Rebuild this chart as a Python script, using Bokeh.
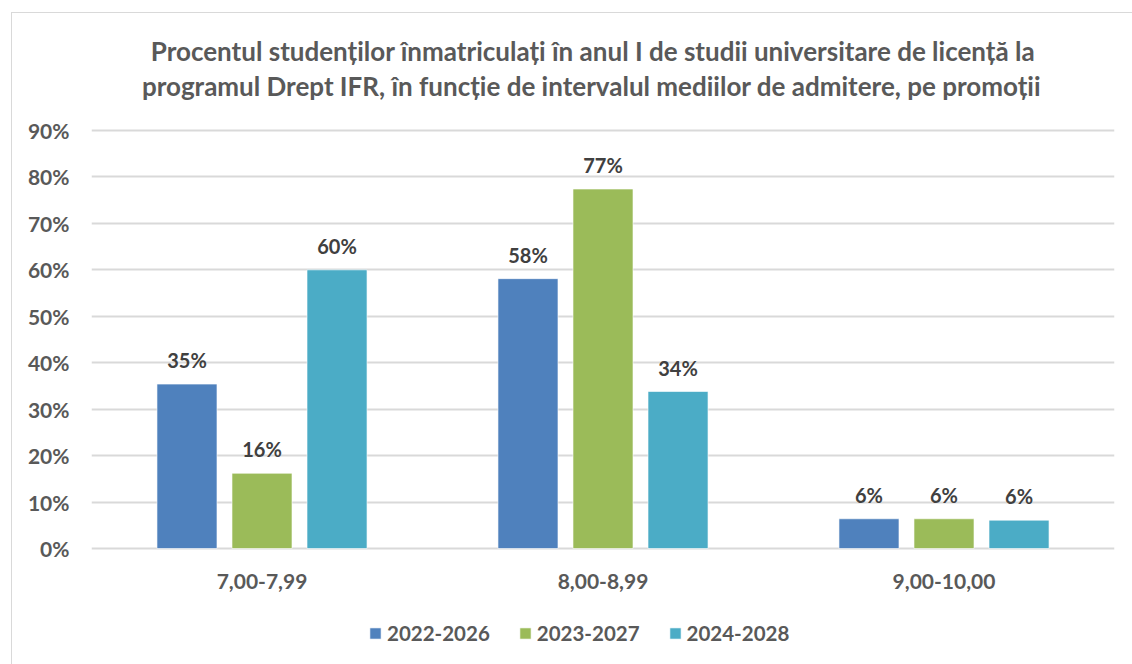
from bokeh.plotting import figure
from bokeh.models import ColumnDataSource, FactorRange, Range1d, Legend, LegendItem, FixedTicker, CustomJSTickFormatter
from bokeh.transform import dodge
from bokeh.core.properties import value
from bokeh.embed import file_html
from bokeh.resources import INLINE

# ---- data ----
categories = ["7,00-7,99", "8,00-8,99", "9,00-10,00"]
series = ["2022-2026", "2023-2027", "2024-2028"]
v2022 = [35.4, 58.1, 6.4]
v2023 = [16.2, 77.4, 6.4]
v2024 = [60.0, 33.8, 6.1]
colors = ["#4F81BD", "#9BBB59", "#4BACC6"]
yticks = [0, 10, 20, 30, 40, 50, 60, 70, 80, 90]
title_lines = ["Procentul studenților înmatriculați în anul I de studii universitare de licență la",
               "programul Drept IFR, în funcție de intervalul mediilor de admitere, pe promoții"]

# ---- layout (page pixels) ----
FONT = "Lato"
ML, MT = 11, 12                 # chart box starts at (11,12)
W, H = 1132 - ML, 664 - MT
frame_left, frame_right = 90, 1113
px_top, px_zero = 129, 547      # pixel rows of 90% and 0%
ymax = 90
ppu = (px_zero - px_top) / ymax
y_end = ymax + (px_top - MT) / ppu
y_start = -((MT + H) - px_zero) / ppu

p = figure(x_range=FactorRange(*categories, range_padding=0), y_range=Range1d(y_start, y_end),
           width=W, height=H, output_backend="svg", toolbar_location=None, title=None,
           min_border_left=frame_left - ML, min_border_right=(ML + W) - frame_right,
           min_border_top=0, min_border_bottom=0)
p.margin = (MT, 0, 0, ML)
p.styles = {"border-left": "1px solid #d9d9d9", "border-top": "1px solid #d9d9d9"}
p.outline_line_color = None

src = ColumnDataSource(dict(cat=categories, a=v2022, b=v2023, c=v2024,
                            la=[f"{round(v)}%" for v in v2022],
                            lb=[f"{round(v)}%" for v in v2023],
                            lc=[f"{round(v)}%" for v in v2024]))

offsets = [-0.22, 0.0, 0.22]
items = []
for off, col, lcol, colr, name in zip(offsets, ["a", "b", "c"], ["la", "lb", "lc"], colors, series):
    r = p.vbar(x=dodge("cat", off, range=p.x_range), top=col, bottom=0, width=0.176, source=src,
               fill_color=colr, line_color="#ffffff", line_alpha=0.6, line_width=1)
    p.text(x=dodge("cat", off, range=p.x_range), y=col, text=lcol, source=src,
           text_align="center", text_baseline="bottom", y_offset=-12,
           text_font=value(FONT), text_font_style="bold", text_font_size="20px",
           text_color="#404040")
    items.append(LegendItem(label=name, renderers=[r]))

# category labels under the 0% line
p.text(x="cat", y=0, text="cat", source=src, text_align="center", text_baseline="middle",
       y_offset=33, text_font=value(FONT), text_font_style="bold", text_font_size="21px",
       text_color="#595959")

# title (two centred lines)
tsrc = ColumnDataSource(dict(x=[categories[1]] * 2, y=[ymax] * 2, t=title_lines,
                             xo=[-10, -11.5], yo=[-80, -45]))
p.text(x="x", y="y", text="t", x_offset="xo", y_offset="yo", source=tsrc,
       text_align="center", text_baseline="middle", text_font=value(FONT),
       text_font_style="bold", text_font_size="26px", text_color="#595959")

p.xaxis.visible = False
p.yaxis.ticker = FixedTicker(ticks=yticks)
p.yaxis.formatter = CustomJSTickFormatter(code="return tick + '%'")
p.yaxis.axis_line_color = None
p.yaxis.major_tick_line_color = None
p.yaxis.minor_tick_line_color = None
p.yaxis.major_label_text_font = FONT
p.yaxis.major_label_text_font_style = "bold"
p.yaxis.major_label_text_font_size = "21px"
p.yaxis.major_label_text_color = "#595959"
p.yaxis.major_label_standoff = 16

p.xgrid.grid_line_color = None
p.ygrid.ticker = FixedTicker(ticks=yticks)
p.ygrid.grid_line_color = "#d9d9d9"
p.ygrid.grid_line_width = 2

legend = Legend(items=items, orientation="horizontal", location=(277, 20),
                label_text_font=FONT, label_text_font_style="bold",
                label_text_font_size="20.5px", label_text_color="#595959",
                glyph_width=14, glyph_height=14, label_height=20, spacing=28, label_standoff=5,
                border_line_color=None, background_fill_alpha=0, margin=0, padding=0)
p.add_layout(legend, "center")

open("out.html", "w").write(file_html(p, INLINE))
